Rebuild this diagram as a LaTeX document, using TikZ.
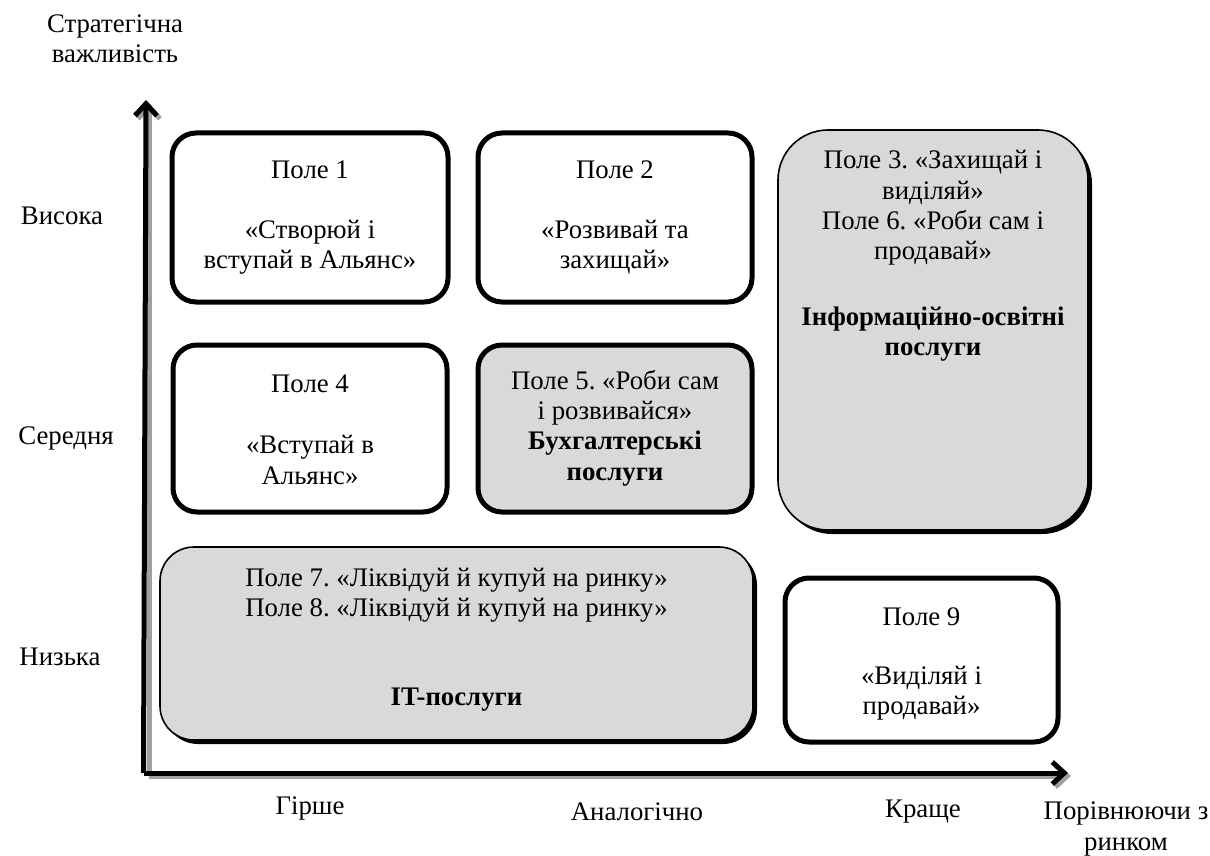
\documentclass[tikz,border=0pt]{standalone}
\usepackage{fontspec}
\setmainfont{Liberation Serif}
\usetikzlibrary{arrows.meta,shadows}
\definecolor{boxgray}{HTML}{D9D9D9}
\definecolor{shadowgray}{HTML}{A0A0A0}
\frenchspacing
\begin{document}
\begin{tikzpicture}[x=0.5pt,y=-0.5pt,
  font=\fontsize{13.4pt}{15.2pt}\selectfont,
  wbox/.style={draw=black, line width=2.5pt, rounded corners=12pt, fill=white, inner sep=0pt},
  gbox/.style={draw=black, line width=2.5pt, rounded corners=12pt, fill=boxgray, inner sep=0pt},
  sbox/.style={draw=black, line width=0.8pt, fill=boxgray, inner sep=0pt,
    drop shadow={fill=black, opacity=1, shadow xshift=2pt, shadow yshift=-2pt}},
  txt/.style={align=center, inner sep=0pt},
  bold/.style={txt, font=\fontsize{13.4pt}{15.2pt}\selectfont\bfseries},
  axis/.style={line width=2.5pt, -{Straight Barb[length=6pt,width=11pt]}},
  axshadow/.style={line width=2.5pt, draw=shadowgray, -{Straight Barb[length=6pt,width=11pt]}}
]
\useasboundingbox (0,0) rectangle (1210,856);

% axes
\coordinate (O) at (146,773);
\coordinate (Ytop) at (146,100);
\coordinate (Xend) at (1068,773);
\draw[axshadow] ([shift={(1.5pt,-1.5pt)}]O) -- ([shift={(1.5pt,-1.5pt)}]Ytop);
\draw[axshadow] ([shift={(1.5pt,-1.5pt)}]O) -- ([shift={(1.5pt,-1.5pt)}]Xend);
\draw[axis] ([xshift=-1.25pt]O) -- (Ytop);
\draw[axis] ([xshift=-1.25pt]O) -- (Xend);

% axis labels
\node[txt] (ytitle) at (115,39) {Стратегічна\\важливість};
\node[txt] (hi) at (62,216) {Висока};
\node[txt] (mid) at (66,438) {Середня};
\node[txt] (lo) at (60,657) {Низька};
\node[txt] (worse) at (310,808) {Гірше};
\node[txt] (same) at (637,812) {Аналогічно};
\node[txt] (better) at (923,812) {Краще};
\node[txt] (xtitle) at (1126,829) {Порівнюючи з\\ринком};

% boxes
\node[wbox, minimum width=138pt, minimum height=84.5pt] (b1) at (310,217.5) {};
\node[wbox, minimum width=137pt, minimum height=84.5pt] (b2) at (615,217.5) {};
\node[sbox, rounded corners=25pt, minimum width=155pt, minimum height=200pt] (b3) at (933,330) {};
\node[wbox, minimum width=137pt, minimum height=83.5pt] (b4) at (310,428.5) {};
\node[gbox, minimum width=137pt, minimum height=83.5pt] (b5) at (615,428.5) {};
\node[sbox, rounded corners=17pt, minimum width=296.5pt, minimum height=96.5pt] (b7) at (456.5,643.5) {};
\node[wbox, minimum width=136.5pt, minimum height=82pt] (b9) at (921.5,660) {};

% box texts
\node[txt] (t1a) at (310,170) {Поле 1};
\node[txt] (t1b) at (310,247) {«Створюй і\\вступай в Альянс»};
\node[txt] (t2a) at (615,170) {Поле 2};
\node[txt] (t2b) at (615,247) {«Розвивай та\\захищай»};
\node[txt] (t3a) at (933,208) {Поле 3. «Захищай і\\виділяй»\\Поле 6. «Роби сам і\\продавай»};
\node[bold] (t3b) at (933,334) {Інформаційно-освітні\\послуги};
\node[txt] (t4a) at (310,384) {Поле 4};
\node[txt] (t4b) at (310,460) {«Вступай в\\Альянс»};
\node[txt] (t5) at (615,428) {Поле 5. «Роби сам\\і розвивайся»\\\textbf{Бухгалтерські}\\\textbf{послуги}};
\node[txt] (t7a) at (456.5,595) {Поле 7. «Ліквідуй й купуй на ринку»\\Поле 8. «Ліквідуй й купуй на ринку»};
\node[bold] (t7b) at (456.5,700) {IT-послуги};
\node[txt] (t9a) at (921.5,617) {Поле 9};
\node[txt] (t9b) at (921.5,693) {«Виділяй і\\продавай»};
\end{tikzpicture}
\end{document}
